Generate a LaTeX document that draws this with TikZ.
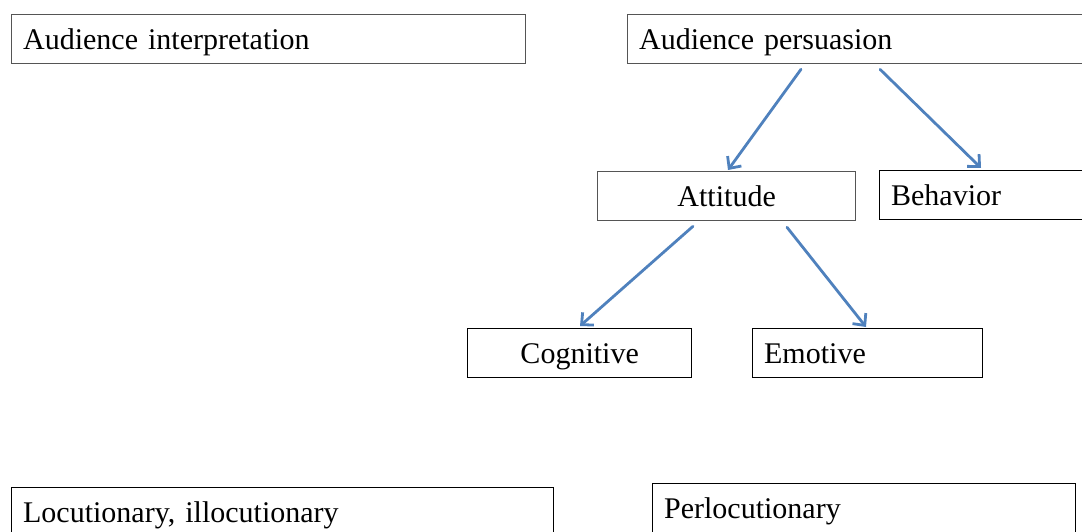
\documentclass[tikz,border=0pt]{standalone}
\usepackage{fontspec}
\setmainfont{Liberation Serif}
\usetikzlibrary{arrows.meta}
\definecolor{arrowblue}{HTML}{4F81BD}
\definecolor{boxgray}{HTML}{555555}
\begin{document}
\begin{tikzpicture}[x=1pt,y=-1pt,
  box/.style={draw=black, line width=1.3pt, rectangle, anchor=north west,
    minimum height=49pt, inner ysep=11pt, inner xsep=11.5pt,
    text height=24pt, text depth=3pt, font=\fontsize{30}{34}\selectfont},
  topbox/.style={box, draw=boxgray},
  leftbox/.style={align=left, text width=#1},
  midbox/.style={align=center, text width=#1},
  arr/.style={draw=arrowblue, line width=2.8pt, line cap=round,
    -{Straight Barb[length=9pt, width=17pt, line width=2.8pt]}}]
  \useasboundingbox (0,0) rectangle (1082,532);
  \clip (0,0) rectangle (1082,532);

  % upper row
  \node[topbox, leftbox=491pt] (interp) at (11,14) {Audience interpretation};
  \node[topbox, leftbox=470pt] (persu) at (627,14) {Audience persuasion};

  % second level
  \node[topbox, midbox=235pt] (attit) at (597,171) {Attitude};
  \node[box, leftbox=230pt] (behav) at (879,170) {Behavior};

  % third level
  \node[box, midbox=201pt] (cogn) at (467,328) {Cognitive};
  \node[box, leftbox=207pt] (emot) at (752,328) {Emotive};

  % bottom row
  \node[box, leftbox=519pt] (locut) at (11,487) {Locutionary, illocutionary};
  \node[box, leftbox=400pt] (perloc) at (652,483) {Perlocutionary};

  % connectors
  \draw[arr] ([shift={(174,5)}]persu.south west) -- ([shift={(131,-1)}]attit.north west);
  \draw[arr] ([shift={(253,5)}]persu.south west) -- ([shift={(102,-2)}]behav.north west);
  \draw[arr] ([shift={(96,5)}]attit.south west) -- ([shift={(113,-2)}]cogn.north west);
  \draw[arr] ([shift={(190,6)}]attit.south west) -- ([shift={(114,-1)}]emot.north west);
\end{tikzpicture}
\end{document}
